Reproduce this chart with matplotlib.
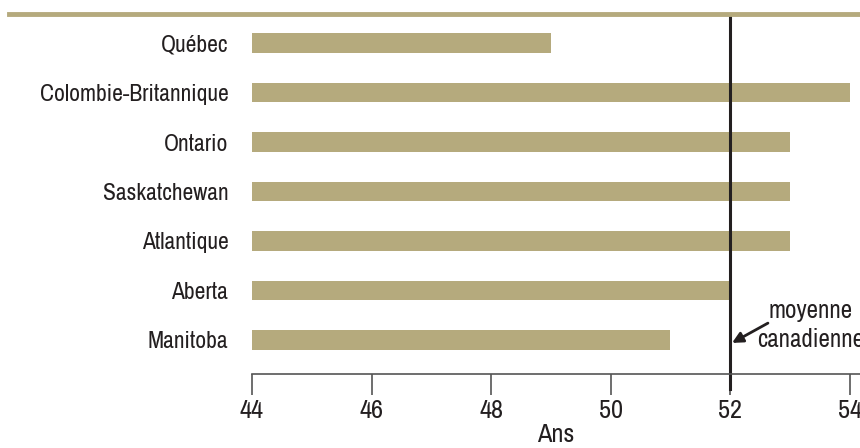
import matplotlib
matplotlib.use('Agg')
import matplotlib.pyplot as plt
from matplotlib import font_manager
from matplotlib.lines import Line2D

regions = ['Manitoba', 'Aberta', 'Atlantique', 'Saskatchewan', 'Ontario',
           'Colombie-Britannique', 'Québec']
ages = [51, 52, 53, 53, 53, 54, 49]
canada_avg = 52
xticks = [44, 46, 48, 50, 52, 54]

TAN = '#b5aa7d'
INK = '#231f20'

names = sorted({f.name for f in font_manager.fontManager.ttflist})
narrow = [n for n in names if 'Narrow' in n or 'Condensed' in n]
plt.rcParams['font.family'] = narrow[:1] + ['DejaVu Sans']

fig = plt.figure(figsize=(8.6, 4.48), dpi=100)
ax = fig.add_axes([0.293, 0.165, 0.707, 0.804])

y = list(range(len(regions)))
ax.barh(y, [a - 44 for a in ages], left=44, height=0.39, color=TAN)

ax.set_xlim(44, 54.17)
ax.set_ylim(-0.69, 6.59)
ax.set_yticks(y)
ax.set_yticklabels(regions, fontsize=17, color=INK)
ax.tick_params(axis='y', length=0, pad=17)
ax.set_xticks(xticks)
ax.set_xticklabels([str(t) for t in xticks], fontsize=19, color=INK)
ax.tick_params(axis='x', direction='out', length=15, width=1.2,
               color='#555555', pad=3)
for s in ['top', 'right', 'left']:
    ax.spines[s].set_visible(False)
ax.spines['bottom'].set_color('#555555')
ax.spines['bottom'].set_linewidth(1.2)
ax.set_xlabel('Ans', fontsize=19, color=INK, labelpad=1)

# canadian average line
ax.plot([canada_avg, canada_avg], [-1.0, 6.59], color=INK,
        linewidth=2.2, clip_on=False)
ax.text(53.35, 0.30, 'moyenne\ncanadienne', ha='center', va='center',
        fontsize=18, color=INK, linespacing=1.3, clip_on=False)
ax.annotate('', xy=(canada_avg + 0.03, -0.06), xytext=(52.63, 0.34),
            annotation_clip=False,
            arrowprops=dict(arrowstyle='-|>', color=INK, lw=2,
                            mutation_scale=16, shrinkA=0, shrinkB=0))

# rule under the (cropped) title
fig.add_artist(Line2D([0.01, 1.0], [0.969, 0.969], color=TAN,
                      linewidth=3.5, transform=fig.transFigure))

fig.savefig('out.png', dpi=100)
plt.close(fig)
